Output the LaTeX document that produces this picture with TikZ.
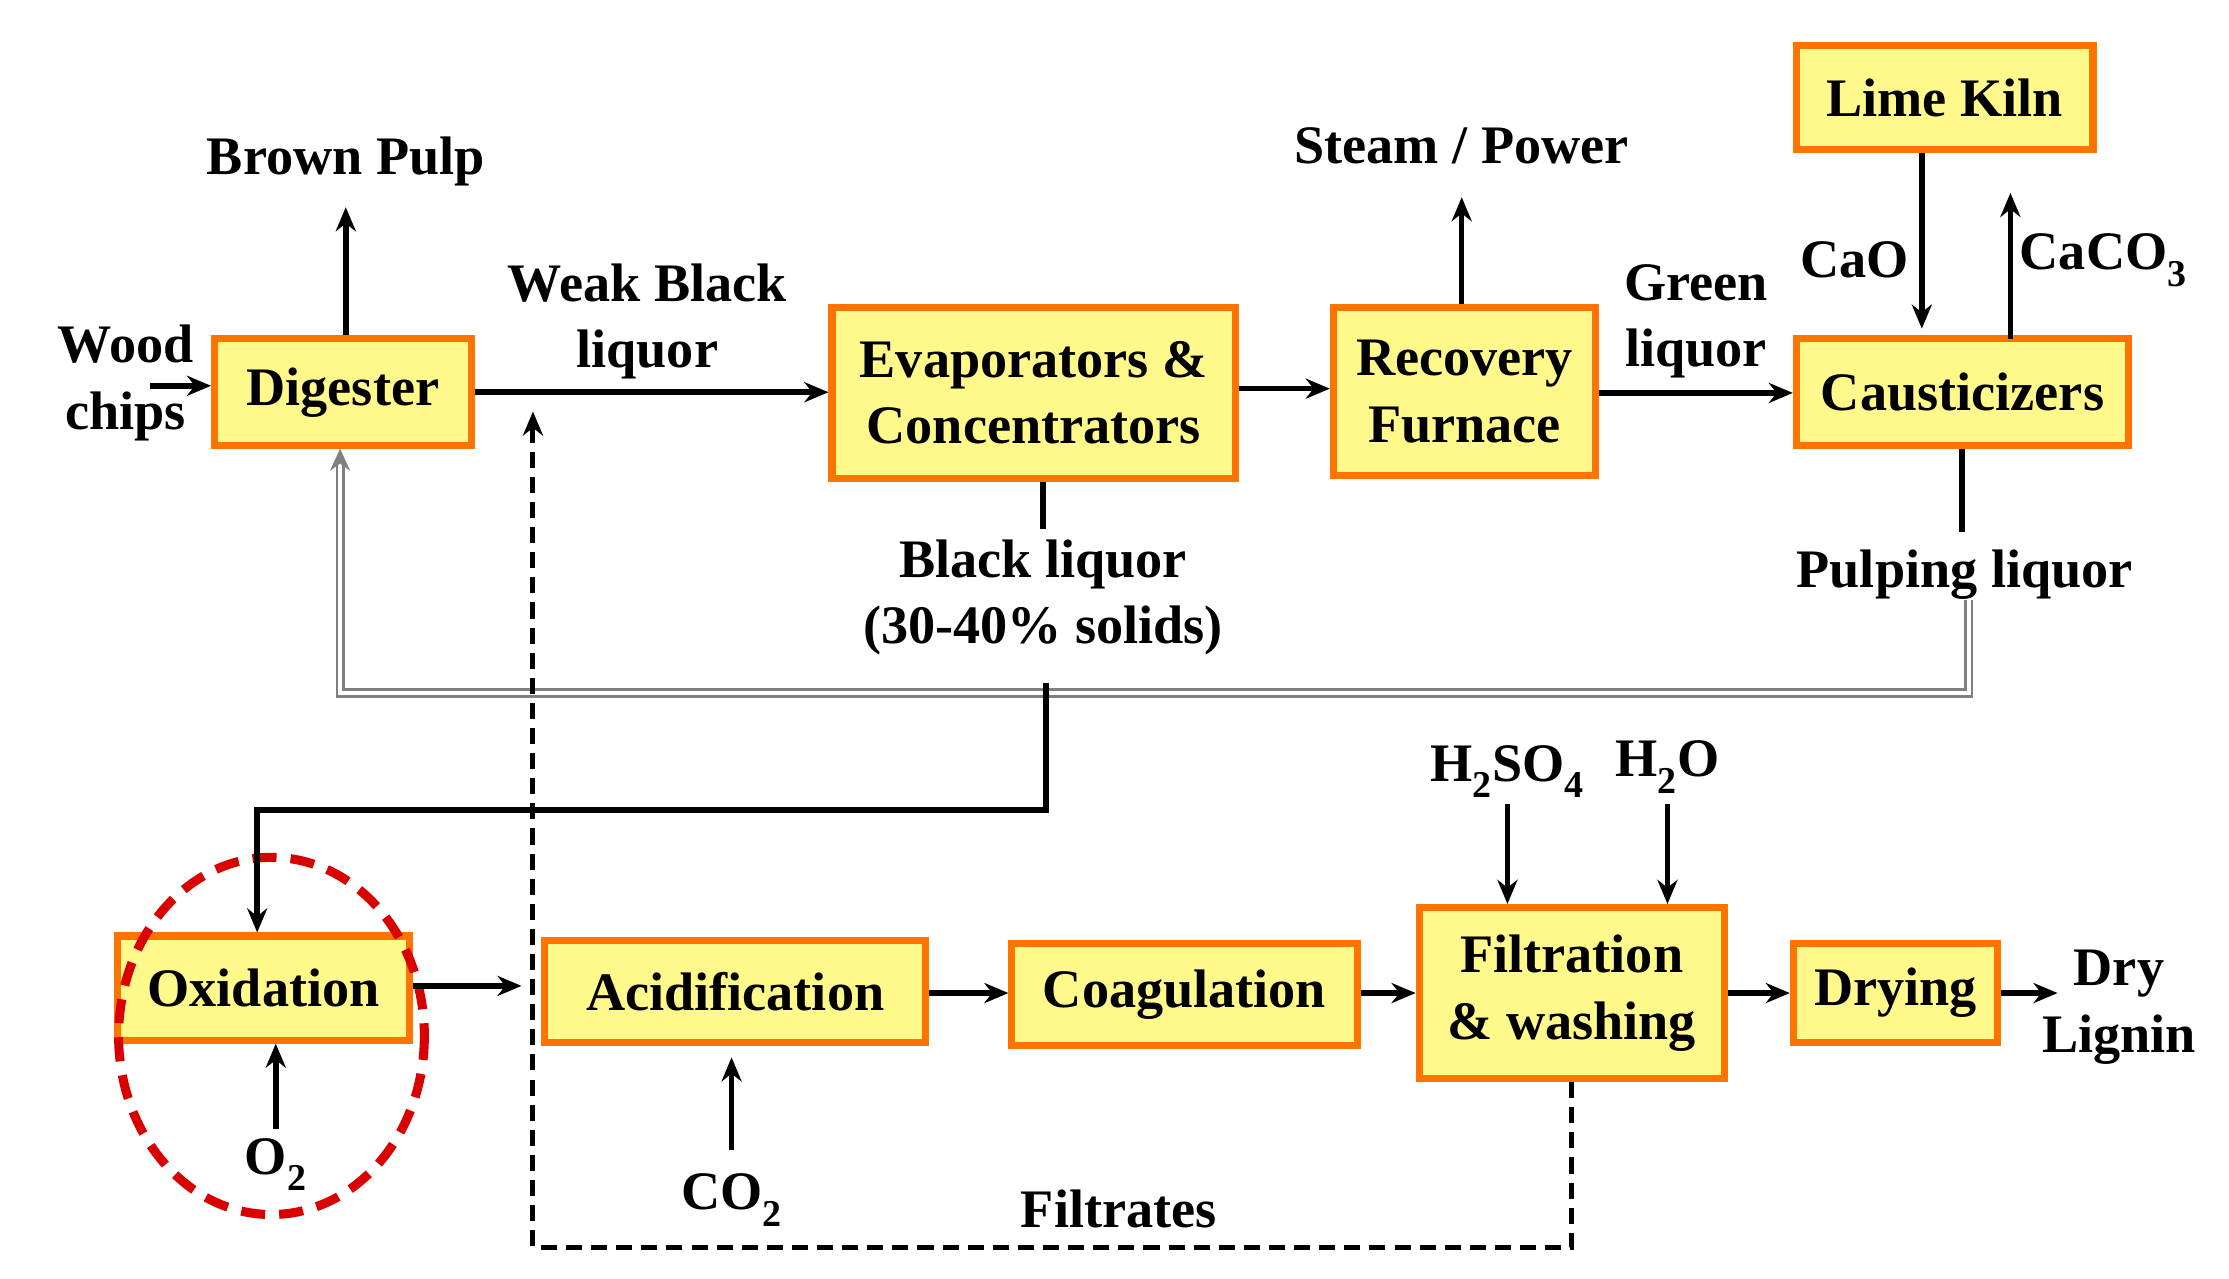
\documentclass[tikz,border=0pt]{standalone}
\usepackage{fontspec}
\setmainfont{Liberation Serif}
\usetikzlibrary{arrows.meta}
\begin{document}
\begin{tikzpicture}[x=0.05cm,y=-0.05cm,
 box/.style={draw=orange!90!red,fill=yellow!45,line width=7pt,inner sep=0pt,align=center,font=\bfseries\fontsize{54}{66}\selectfont},
 lbl/.style={inner sep=0pt,align=center,font=\bfseries\fontsize{54}{66}\selectfont},
 ar/.style={line width=5.5pt,-{Stealth[length=24pt,width=20pt]}},
 ln/.style={line width=5.5pt}]
\useasboundingbox (0,0) rectangle (1560,895);
\node[box,minimum width=180*1.42pt,minimum height=75*1.42pt] (dig) at (240,274.5) {Digester};
\node[box,minimum width=283*1.42pt,minimum height=120*1.42pt] (eva) at (723.5,275) {Evaporators \&\\Concentrators};
\node[box,minimum width=184*1.42pt,minimum height=118*1.42pt] (rec) at (1025,274) {Recovery\\Furnace};
\node[box,minimum width=208*1.42pt,minimum height=73*1.42pt] (kil) at (1361,68.5) {Lime Kiln};
\node[box,minimum width=233*1.42pt,minimum height=75*1.42pt] (cau) at (1373.5,274.5) {Causticizers};
\node[box,minimum width=205*1.42pt,minimum height=73*1.42pt] (oxi) at (184.5,691.5) {Oxidation};
\node[box,minimum width=267*1.42pt,minimum height=72*1.42pt] (aci) at (514.5,694) {Acidification};
\node[box,minimum width=242*1.42pt,minimum height=72*1.42pt] (coa) at (829,696) {Coagulation};
\node[box,minimum width=214*1.42pt,minimum height=120*1.42pt] (fil) at (1100,695) {Filtration\\\& washing};
\node[box,minimum width=143*1.42pt,minimum height=70*1.42pt] (dry) at (1326.5,695) {Drying};
\draw[red!85!black,line width=9pt,dash pattern=on 24pt off 14pt] (190,725) ellipse [x radius=107,y radius=125];

\node[lbl] (bp) at (242,113) {Brown Pulp};
\node[lbl] (wc) at (88,268) {Wood\\chips};
\node[lbl] (wbl) at (453,225) {Weak Black\\liquor};
\node[lbl] (sp) at (1023,102) {Steam / Power};
\node[lbl] (gl) at (1187,225) {Green\\liquor};
\node[lbl] (cao) at (1298,182) {CaO};
\node[lbl] (caco) at (1472,182) {CaCO$_{\mathbf 3}$};
\node[lbl] (pl) at (1375,402) {Pulping liquor};
\node[lbl] (bl) at (730,418) {Black liquor\\(30-40\% solids)};
\node[lbl] (o2) at (193,815) {O$_{\mathbf 2}$};
\node[lbl] (co2) at (512,840) {CO$_{\mathbf 2}$};
\node[lbl] (ft) at (783,846) {Filtrates};
\node[lbl] (hs) at (1055,540) {H$_{\mathbf 2}$SO$_{\mathbf 4}$};
\node[lbl] (hw) at (1167,537) {H$_{\mathbf 2}$O};
\node[lbl] (dl) at (1483,705) {Dry\\Lignin};

\coordinate (bpa) at (242,145);
\coordinate (wca) at (105,270);
\coordinate (spa) at (1023,138);
\coordinate (cca) at (1407,135);
\coordinate (acin) at (365,690);
\coordinate (dla) at (1440,695);
\coordinate (o2a) at (193,790);
\coordinate (co2a) at (512,805);
\coordinate (hsa) at (1055,563);
\coordinate (hwa) at (1167,563);
\coordinate (dashtop) at (373,288);

\draw[ar] (dig.north-|bpa) -- (bpa);
\draw[ar] (wca) -- (dig.west|-wca);
\draw[ar] (dig.east) -- (eva.west|-dig.east);
\draw[ar] (eva.east|-0,272) -- (rec.west|-0,272);
\draw[ar] (rec.north-|spa) -- (spa);
\draw[ar] (rec.east|-0,275) -- (cau.west|-0,275);
\draw[ar] (kil.south-|1345,0) -- (1345,230);
\draw[ar] (1407,237) -- (cca);
\draw[ln] (cau.south-|1373,0) -- (1373,372);
\draw[gray,double=white,double distance=4pt,line width=2.5pt,-{Stealth[length=22pt,width=20pt]}] (1378,420) -- (1378,485) -- (238,485) -- (238,314);
\draw[ln] (eva.south-|730,0) -- (730,370);
\draw[ar] (732,478) -- (732,567) -- (180,567) -- (oxi.north-|180,0);
\draw[ar] (oxi.east|-0,690) -- (acin);
\draw[ar] (o2a) -- (oxi.south-|o2a);
\draw[ar] (co2a) -- (512,740);
\draw[ar] (aci.east|-0,695) -- (coa.west|-0,695);
\draw[ar] (coa.east|-0,695) -- (fil.west|-0,695);
\draw[ar] (fil.east|-0,695) -- (dry.west|-0,695);
\draw[ar] (dry.east|-0,695) -- (dla);
\draw[ar] (hsa) -- (fil.north-|hsa);
\draw[ar] (hwa) -- (fil.north-|hwa);
\draw[line width=5pt,dash pattern=on 16pt off 9pt,-{Stealth[length=24pt,width=20pt]}] (fil.south) -- (1100,873) -- (373,873) -- (dashtop);
\end{tikzpicture}
\end{document}
